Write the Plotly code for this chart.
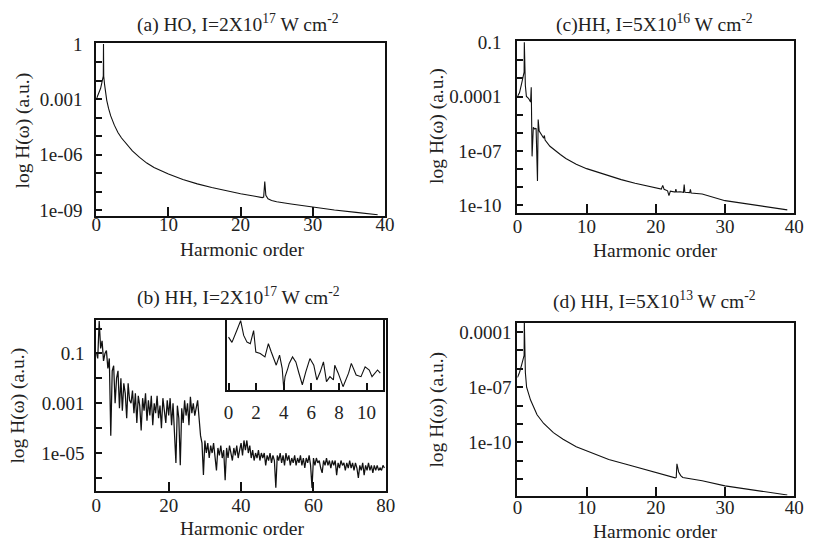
import plotly.graph_objects as go

# ---------------- data ----------------
# (a) HO, I=2x10^17
a_order = [0, 0.3, 0.6, 0.85, 0.97, 1.0, 1.03, 1.15, 1.3, 1.45, 1.7, 2.0, 2.5, 3.0, 3.5, 4.0,
           5.0, 6.0, 7.0, 8.0, 10.0, 12.0, 14.0, 16.0, 18.0, 20.0, 22.0, 23.0, 23.2, 23.35, 23.5,
           23.8, 24.3, 25.0, 27.0, 30.0, 33.0, 36.0, 39.0]
a_H = [1e-3, 1.8e-3, 4e-3, 1.1e-2, 1.8e-2, 1.0, 1.8e-2, 6.3e-3, 2e-3, 8.9e-4, 3.2e-4, 1.26e-4,
       4e-5, 1.6e-5, 8e-6, 4.5e-6, 1.6e-6, 7.1e-7, 3.5e-7, 2e-7, 8.9e-8, 4.5e-8, 2.6e-8, 1.66e-8,
       1.07e-8, 7.6e-9, 5.6e-9, 4.7e-9, 5e-9, 3.5e-8, 6.3e-9, 4e-9, 3.3e-9, 2.8e-9, 2.1e-9,
       1.4e-9, 1e-9, 7.4e-10, 5.5e-10]

# (c) HH, I=5x10^16
c_order = [0, 0.3, 0.6, 0.85, 0.97, 1.0, 1.03, 1.15, 1.3, 1.6, 1.9, 2.0, 2.12, 2.3, 2.5, 2.7,
           2.9, 3.0, 3.15, 3.5, 3.8, 3.9, 4.0, 4.7, 5.5, 6.2, 7.0, 8.5, 10, 11, 13, 15, 17, 18,
           20, 20.8, 21.0, 21.2, 21.7, 21.9, 22.1, 22.7, 22.8, 22.9, 23.0, 23.5, 24.0, 24.1,
           24.2, 24.9, 25.0, 25.1, 26.7, 30, 33.8, 37.6, 39]
c_H = [1e-4, 1.6e-4, 5e-4, 1.6e-3, 2.2e-3, 1e-1, 2e-3, 4e-4, 1e-4, 8e-5, 5e-5, 3.2e-4, 5e-8,
       2e-6, 1.6e-6, 1.8e-6, 2.2e-9, 5.4e-6, 1.26e-6, 8e-7, 5e-7, 7.1e-7, 4e-7, 1.8e-7, 1e-7,
       6.3e-8, 3.8e-8, 1.86e-8, 1.05e-8, 7.9e-9, 4.2e-9, 2.6e-9, 1.66e-9, 1.38e-9, 9.3e-10,
       7.9e-10, 1.26e-9, 7.6e-10, 6.3e-10, 3.4e-10, 6e-10, 5.6e-10, 5.4e-10, 7.9e-10, 5.4e-10,
       5.6e-10, 5.2e-10, 1.4e-9, 5.2e-10, 5e-10, 7.6e-10, 4.8e-10, 4.2e-10, 1.8e-10, 1.07e-10,
       6.3e-11, 5.6e-11]

# (b) HH, I=2x10^17  (sampled every 0.4 harmonic order)
b_step = 0.4
b_H = [1e-1, 6.3e-2, 2.0, 1.6e-1, 3.2e-1, 5e-2, 1e-1, 1.3e-1, 2.5e-2, 6.3e-2,
       5e-5, 2e-2, 3.2e-2, 1e-3, 1e-2, 2e-2, 6.3e-4, 1e-2, 5e-4, 6.3e-3,
       2.5e-3, 2.5e-4, 6.3e-3, 1.3e-3, 1e-3, 3.2e-3, 4e-4, 2.5e-3, 1.6e-4, 2e-3,
       8e-4, 8e-5, 1.6e-3, 5e-4, 2.5e-3, 2e-4, 1.3e-3, 3.2e-4, 2e-3, 1.3e-4,
       1e-3, 4e-4, 2e-3, 2.5e-4, 8e-4, 1e-4, 1.6e-3, 5e-4, 1.6e-4, 1.3e-3,
       3.2e-4, 1.6e-3, 1.3e-4, 1e-3, 6.3e-5, 4e-6, 8e-4, 2.5e-4, 3.2e-6, 6.3e-4,
       1.6e-4, 1.3e-3, 3.2e-4, 1e-3, 1.3e-4, 1.8e-3, 4e-4, 1e-3, 3.2e-4, 8e-4,
       1.3e-3, 2.5e-4, 5e-5, 2.5e-5, 1.3e-6, 3.2e-5, 1e-5, 2.5e-5, 6.3e-6, 2e-5,
       1e-5, 2.5e-5, 5e-6, 2e-6, 1.6e-5, 8e-6, 2e-5, 6.3e-6, 1.3e-5, 8e-7,
       1.6e-5, 6.3e-6, 2e-5, 1e-5, 5e-6, 1.6e-5, 8e-6, 2e-5, 6.3e-6, 1.3e-5,
       2.5e-5, 8e-6, 3.2e-5, 1.3e-5, 3.2e-5, 1e-5, 2e-5, 6.3e-6, 1.3e-5, 5e-6,
       1e-5, 6.3e-6, 1.3e-5, 5e-6, 1e-5, 6.3e-6, 1e-5, 3.2e-6, 8e-6, 5e-6,
       1e-5, 4e-6, 8e-6, 5e-6, 4e-7, 8e-6, 5e-6, 1e-5, 4e-6, 8e-6,
       3.2e-6, 1e-5, 5e-6, 8e-6, 3.2e-6, 6.3e-6, 4e-6, 8e-6, 3.2e-6, 6.3e-6,
       4e-6, 8e-6, 3.2e-6, 6.3e-6, 2.5e-6, 6.3e-6, 4e-6, 8e-6, 3.2e-6, 4e-7,
       6.3e-6, 3.2e-6, 6.3e-6, 4e-6, 5e-6, 2.5e-6, 1.6e-6, 5e-6, 3.2e-6, 6.3e-6,
       3.2e-6, 5e-6, 2.5e-6, 5e-6, 3.2e-6, 5e-6, 1.3e-6, 4e-6, 2.5e-6, 5e-6,
       3.2e-6, 4e-6, 2e-6, 4e-6, 2.5e-6, 5e-6, 2.5e-6, 4e-6, 2e-6, 4e-6,
       2.5e-6, 1e-6, 3.2e-6, 2e-6, 4e-6, 1.3e-6, 3.2e-6, 2e-6, 4e-6, 2e-6,
       3.2e-6, 1.6e-6, 3.2e-6, 2e-6, 3.2e-6, 2e-6, 2.5e-6, 2e-6, 3.2e-6, 2.5e-6]
b_order = [round(b_step * i, 1) for i in range(len(b_H))]

# (b) inset: low orders magnified
inset_order = [0, 0.25, 0.6, 0.88, 1.1, 1.34, 1.58, 1.82, 1.98, 2.3, 2.64, 2.89, 3.1, 3.46, 3.7,
               3.89, 4.0, 4.1, 4.3, 4.4, 4.64, 4.88, 5.1, 5.35, 5.6, 5.9, 6.18, 6.4, 6.65, 6.88,
               7.1, 7.35, 7.6, 7.7, 7.95, 8.3, 8.7, 8.9, 9.25, 9.6, 9.9, 10.2, 10.4, 10.8, 11.0]
inset_H = [1e-1, 3.8e-2, 3.3e-1, 2.0, 1.35e-1, 4e-2, 3e-2, 3.3e-1, 6.6e-3, 5e-3, 2.7e-3, 3e-2,
           6.6e-3, 6e-4, 3.7e-3, 3.4e-4, 9e-6, 7.4e-5, 3.4e-4, 8.3e-4, 2.7e-3, 1.1e-3, 1.45e-4,
           1.7e-5, 1.8e-4, 2e-3, 6e-4, 4.1e-5, 1.8e-4, 1.1e-3, 3e-5, 7.4e-5, 4.1e-5, 6e-4,
           1.4e-4, 1.2e-5, 1.4e-4, 8.3e-4, 1e-4, 7.4e-5, 4.5e-4, 2.5e-4, 7.4e-5, 2.5e-4, 1.4e-4]

# (d) HH, I=5x10^13
d_order = [0, 0.3, 0.6, 0.85, 0.97, 1.0, 1.03, 1.15, 1.33, 1.9, 2.84, 3.8, 5.2, 6.6, 8.5, 10.4,
           13.2, 16.1, 20.4, 22.0, 22.8, 22.95, 23.05, 23.3, 23.6, 23.9, 26.7, 30, 33.8, 37.6, 39]
d_H = [3.4e-7, 6.3e-7, 1.6e-6, 3.5e-6, 5.4e-6, 4e-4, 5e-6, 6.3e-7, 1e-7, 2e-8, 3.2e-9, 1.07e-9,
       3.4e-10, 1.5e-10, 5.9e-11, 3e-11, 1.2e-11, 5.9e-12, 2.1e-12, 1.4e-12, 1.2e-12, 1.26e-12,
       6.9e-12, 2.5e-12, 1.6e-12, 1.26e-12, 8.3e-13, 4.4e-13, 2.7e-13, 1.6e-13, 1.4e-13]

# tick values / labels
a_tickvals = [1, 1e-1, 1e-2, 1e-3, 1e-4, 1e-5, 1e-6, 1e-7, 1e-8, 1e-9]
a_ticktext = ["1", "", "", "0.001", "", "", "1e-06", "", "", "1e-09"]
c_tickvals = [1e-1, 1e-2, 1e-3, 1e-4, 1e-5, 1e-6, 1e-7, 1e-8, 1e-9, 1e-10]
c_ticktext = ["0.1", "", "", "0.0001", "", "", "1e-07", "", "", "1e-10"]
b_tickvals = [1, 1e-1, 1e-2, 1e-3, 1e-4, 1e-5, 1e-6]
b_ticktext = ["", "0.1", "", "0.001", "", "1e-05", ""]
d_tickvals = [1e-4, 1e-5, 1e-6, 1e-7, 1e-8, 1e-9, 1e-10, 1e-11, 1e-12]
d_ticktext = ["0.0001", "", "", "1e-07", "", "", "1e-10", "", ""]
x40_ticks = [0, 10, 20, 30, 40]
x80_ticks = [0, 20, 40, 60, 80]
inset_ticks = [0, 2, 4, 6, 8, 10]

titles = ["(a) HO, I=2X10<sup>17</sup> W cm<sup>-2</sup>",
          "(c)HH, I=5X10<sup>16</sup> W cm<sup>-2</sup>",
          "(b) HH, I=2X10<sup>17</sup> W cm<sup>-2</sup>",
          "(d) HH, I=5X10<sup>13</sup> W cm<sup>-2</sup>"]
xlabel = "Harmonic order"
ylabel = "log H(\u03c9) (a.u.)"

# ---------------- figure ----------------
W, H = 816, 559
FONT = "Liberation Serif"
TICKFONT = dict(family=FONT, size=19, color="#222")
LINE = dict(color="#111", width=1.1)

def px_x(p):
    return p / W

def px_y(p):
    return 1 - p / H

fig = go.Figure()
fig.add_trace(go.Scatter(x=a_order, y=a_H, mode="lines", line=LINE, xaxis="x", yaxis="y"))
fig.add_trace(go.Scatter(x=c_order, y=c_H, mode="lines", line=LINE, xaxis="x2", yaxis="y2"))
fig.add_trace(go.Scatter(x=b_order, y=b_H, mode="lines", line=dict(color="#111", width=1.25),
                         xaxis="x3", yaxis="y3"))
fig.add_trace(go.Scatter(x=d_order, y=d_H, mode="lines", line=LINE, xaxis="x4", yaxis="y4"))
fig.add_trace(go.Scatter(x=inset_order, y=inset_H, mode="lines", line=LINE, xaxis="x5", yaxis="y5"))

def xax(dom, rng, ticks, anchor, standoff, ticklen=9):
    return dict(domain=[px_x(dom[0]), px_x(dom[1])], range=rng, anchor=anchor,
                tickvals=ticks, ticktext=[str(t) for t in ticks],
                ticks="inside", ticklen=ticklen, tickwidth=2, tickcolor="#111",
                showline=True, linecolor="#111", linewidth=2, mirror=True,
                showgrid=False, zeroline=False, tickfont=TICKFONT,
                ticklabelstandoff=standoff)

def yax(dom, rng, tv, tt, anchor, standoff):
    return dict(domain=[px_y(dom[1]), px_y(dom[0])], range=rng, type="log", anchor=anchor,
                tickvals=tv, ticktext=tt,
                ticks="inside", ticklen=6, tickwidth=2, tickcolor="#111",
                showline=True, linecolor="#111", linewidth=2, mirror=True,
                showgrid=False, zeroline=False, tickfont=TICKFONT,
                ticklabelstandoff=standoff)

fig.update_layout(
    width=W, height=H, margin=dict(l=0, r=0, t=0, b=0),
    paper_bgcolor="white", plot_bgcolor="white", showlegend=False,
    xaxis=xax((93, 387), [0, 40], x40_ticks, "y", -9),
    yaxis=yax((35, 212), [-9.31, 0.05], a_tickvals, a_ticktext, "x", 8),
    xaxis2=xax((522, 804), [0, 40], x40_ticks, "y2", -5),
    yaxis2=yax((33, 209.5), [-10.44, -0.946], c_tickvals, c_ticktext, "x2", 10),
    xaxis3=xax((93, 388), [0, 80], x80_ticks, "y3", -3),
    yaxis3=yax((319, 494), [-6.51, 0.343], b_tickvals, b_ticktext, "x3", 6),
    xaxis4=xax((522, 804), [0, 40], x40_ticks, "y4", -6),
    yaxis4=yax((322, 499), [-12.88, -3.51], d_tickvals, d_ticktext, "x4", 0),
    xaxis5=xax((226, 385), [-0.12, 11.19], inset_ticks, "y5", 4, ticklen=7),
    yaxis5=dict(domain=[px_y(391), px_y(319)], range=[-5.2, 0.35], type="log", anchor="x5",
                showticklabels=False, ticks="", showline=True, linecolor="#111", linewidth=2,
                mirror=True, showgrid=False, zeroline=False),
)

TFONT = dict(family=FONT, size=19.5, color="#222")
title_pos = [(237, 15), (662, 15), (238, 295), (662, 299)]
for txt, (x, y) in zip(titles, title_pos):
    fig.add_annotation(text=txt, x=px_x(x), y=px_y(y), xref="paper", yref="paper",
                       showarrow=False, xanchor="center", yanchor="middle", font=TFONT)

xl_pos = [(241, 247), (662, 248), (241, 533), (662, 536)]
for (x, y) in xl_pos:
    fig.add_annotation(text=xlabel, x=px_x(x), y=px_y(y), xref="paper", yref="paper",
                       showarrow=False, xanchor="center", yanchor="middle", font=TFONT)

yl_pos = [(18, 125), (440, 120), (13, 407), (440, 411)]
for (x, y) in yl_pos:
    fig.add_annotation(text=ylabel, x=px_x(x), y=px_y(y), xref="paper", yref="paper",
                       showarrow=False, xanchor="center", yanchor="middle", textangle=-90,
                       font=TFONT)

fig.write_html("out.html")
